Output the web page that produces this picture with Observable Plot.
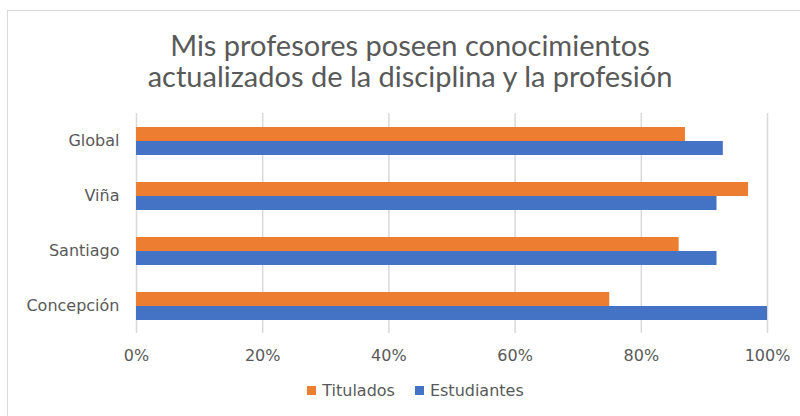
<!DOCTYPE html>
<html>
<head>
<meta charset="utf-8">
<script src="https://cdn.jsdelivr.net/npm/d3@7"></script>
<script src="https://cdn.jsdelivr.net/npm/@observablehq/plot@0.6"></script>
<style>
  html, body { margin: 0; padding: 0; background: #fff; }
  #wrap { position: relative; width: 800px; height: 416px; overflow: hidden; background: #fff; }
  #frame { position: absolute; left: 7px; top: 10px; width: 800px; height: 420px;
           border-left: 1.5px solid #d9d9d9; border-top: 1.5px solid #d9d9d9; }
  .tl { position: absolute; left: 20px; width: 780px; height: 30px; text-align: center;
        font-family: Lato, "Open Sans", sans-serif; font-size: 29px; line-height: 30px; color: #595959; }
  #t1 { top: 30px; }
  #t2 { top: 61px; }
  #chart { position: absolute; left: 0; top: 100px; }
  #legend { position: absolute; left: 0; width: 831px; top: 381px; display: flex; justify-content: center;
            font-family: "DejaVu Sans", sans-serif; font-size: 16px; color: #595959; }
  .item { display: flex; align-items: center; margin: 0 10px; }
  .sw { width: 9px; height: 9px; margin-right: 6px; }
</style>
</head>
<body>
<div id="wrap">
  <div id="frame"></div>
  <div class="tl" id="t1">Mis profesores poseen conocimientos</div>
  <div class="tl" id="t2">actualizados de la disciplina y la profesión</div>
  <div id="chart"></div>
  <div id="legend"></div>
</div>
<script>
const categories = ["Global", "Viña", "Santiago", "Concepción"];
const seriesNames = ["Titulados", "Estudiantes"];
const titulados = [0.87, 0.97, 0.86, 0.75];
const estudiantes = [0.93, 0.92, 0.92, 1.00];
const xTicks = [0, 0.2, 0.4, 0.6, 0.8, 1.0];
const colors = ["#ED7D31", "#4472C4"];

const rows = [];
categories.forEach((c, i) => {
  rows.push({cat: c, series: seriesNames[0], value: titulados[i]});
  rows.push({cat: c, series: seriesNames[1], value: estudiantes[i]});
});

const chart = Plot.plot({
  width: 800,
  height: 270,
  marginLeft: 136,
  marginRight: 33,
  marginTop: 13,
  marginBottom: 37,
  style: {fontFamily: "DejaVu Sans, sans-serif", fontSize: "16px", color: "#595959", background: "transparent"},
  x: {domain: [0, 1], ticks: xTicks, tickFormat: d => Math.round(d * 100) + "%", label: null, axis: null},
  fy: {domain: categories, padding: 0, label: null, axis: null},
  y: {domain: seriesNames, paddingInner: 0, paddingOuter: 0.964, axis: null},
  color: {domain: seriesNames, range: colors},
  marks: [
    Plot.gridX(xTicks, {stroke: "#d9d9d9", strokeOpacity: 1, strokeWidth: 1.5}),
    Plot.barX(rows, {x: "value", y: "series", fy: "cat", fill: "series"}),
    Plot.axisX(xTicks, {tickSize: 0, tickPadding: 16, tickFormat: d => Math.round(d * 100) + "%", fontSize: 16, fill: "#595959", label: null}),
    Plot.axisFy({anchor: "left", tickSize: 0, tickPadding: 17, fontSize: 16, fill: "#595959", label: null})
  ]
});
document.getElementById("chart").appendChild(chart);

const legend = document.getElementById("legend");
seriesNames.forEach((s, i) => {
  const item = document.createElement("div");
  item.className = "item";
  const sw = document.createElement("div");
  sw.className = "sw";
  sw.style.background = colors[i];
  const t = document.createElement("span");
  t.textContent = s;
  item.appendChild(sw);
  item.appendChild(t);
  legend.appendChild(item);
});
</script>
</body>
</html>
